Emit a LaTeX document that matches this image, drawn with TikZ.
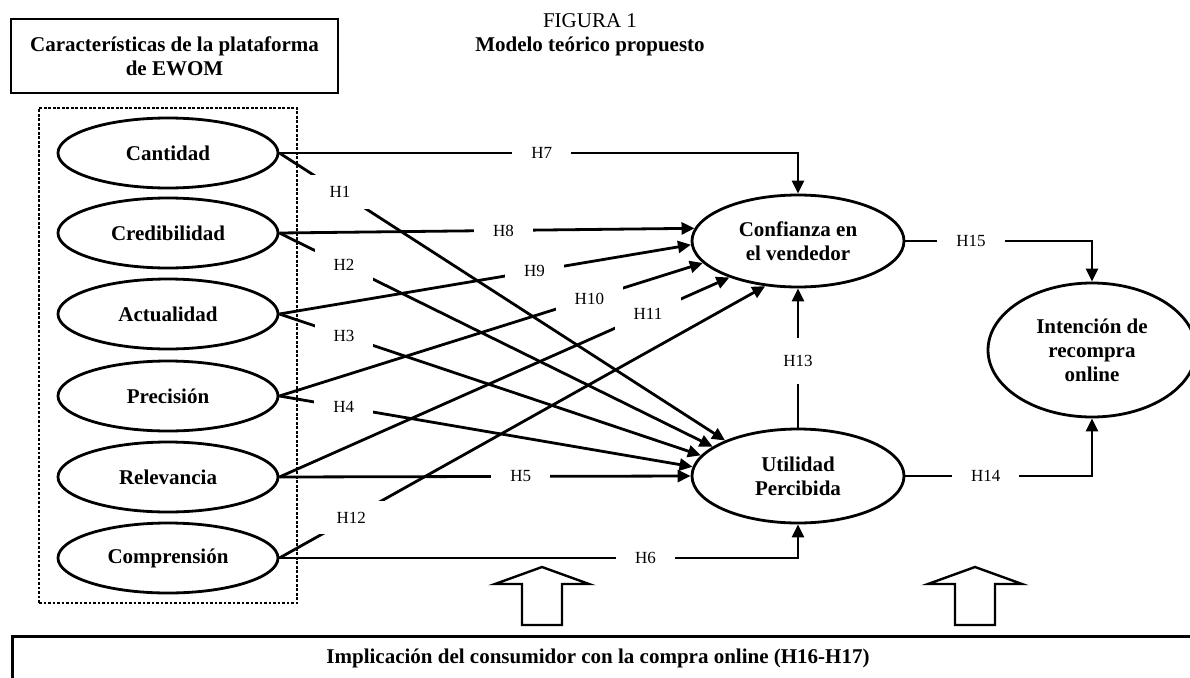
\documentclass[tikz,border=0pt]{standalone}
\usepackage{fontspec}
\setmainfont{Liberation Serif}
\usetikzlibrary{arrows.meta,shapes.geometric}

\begin{document}
\begin{tikzpicture}[x=1pt,y=-1pt,
  every node/.style={inner sep=0pt},
  boldtext/.style={font=\fontsize{21}{24}\selectfont\bfseries},
  oval/.style={ellipse, draw, line width=2.8pt, minimum width=220pt,
    minimum height=70pt, boldtext, align=center},
  bigoval/.style={ellipse, draw, line width=2.8pt, boldtext, align=center},
  conn/.style={line width=2.8pt, -{Triangle[length=13pt,width=12pt]}},
  hlab/.style={fill=white, inner xsep=19pt, inner ysep=11pt,
    font=\fontsize{17}{20}\selectfont},
  blockarrow/.style={draw, line width=2.4pt, line join=miter, fill=white},
  ]
\clip (0,0) rectangle (1190,677);

% heading
\node[align=center, font=\fontsize{21}{24}\selectfont] (title) at (590,35)
  {FIGURA 1\\\textbf{Modelo teórico propuesto}};

% platform characteristics
\node[draw, line width=2.8pt, minimum width=327pt, minimum height=74pt,
  align=center, boldtext] (plat) at (174.5,56)
  {Características de la plataforma\\de EWOM};
\node[draw, line width=2.4pt, dash pattern=on 2.6pt off 1.9pt,
  minimum width=258pt, minimum height=495pt] (group) at (168,355.5) {};

\node[oval] (cant) at (168,153) {Cantidad};
\node[oval] (cred) at (168,233) {Credibilidad};
\node[oval] (act)  at (168,314) {Actualidad};
\node[oval] (prec) at (168,396) {Precisión};
\node[oval] (rel)  at (168,477) {Relevancia};
\node[oval] (comp) at (168,558) {Comprensión};

% constructs
\node[bigoval, minimum width=212pt, minimum height=92pt] (conf) at (798,241)
  {Confianza en\\el vendedor};
\node[bigoval, minimum width=212pt, minimum height=94pt] (util) at (798,476)
  {Utilidad\\Percibida};
\node[bigoval, minimum width=208pt, minimum height=134pt] (int) at (1092,350)
  {Intención de\\recompra\\online};

% consumer involvement
\node[draw, line width=2.8pt, anchor=north west, minimum width=1230pt,
  minimum height=80pt] (impl) at (11,635) {};
\node[boldtext] (impltext) at (598,658)
  {Implicación del consumidor con la compra online (H16-H17)};

% moderating block arrows
\draw[blockarrow] (522,625) -- (522,584) -- (495,584) -- (542,567)
  -- (589,584) -- (562,584) -- (562,625) -- cycle;
\draw[blockarrow] (955,625) -- (955,584) -- (928,584) -- (975,567)
  -- (1022,584) -- (995,584) -- (995,625) -- cycle;

% hypotheses paths
\draw[conn] (cant.east) -| (conf.north);
\draw[conn] (cred.east) -- (conf.173);
\draw[conn] (act.east)  -- (conf.182);
\draw[conn] (prec.east) -- (conf.193);
\draw[conn] (rel.east)  -- (conf.208);
\draw[conn] (comp.east) -- (conf.234);
\draw[conn] (cant.east) -- (util.154);
\draw[conn] (cred.east) -- (util.161);
\draw[conn] (act.east)  -- (util.168);
\draw[conn] (prec.east) -- (util.175);
\draw[conn] (rel.east)  -- (util.west);
\draw[conn] (comp.east) -| (util.south);
\draw[conn] (util.north) -- (conf.south);
\draw[conn] (util.east) -| (int.south);
\draw[conn] (conf.east) -| (int.north);

% hypothesis labels, set over the paths
\path (cant.east) -| (conf.north) node[hlab, pos=0.253] {H7};
\path (cred.east) -- (conf.173) node[hlab, pos=0.54] {H8};
\path (act.east)  -- (conf.182) node[hlab, pos=0.62] {H9};
\path (prec.east) -- (conf.193) node[hlab, pos=0.732] {H10};
\path (rel.east)  -- (conf.208) node[hlab, pos=0.819] {H11};
\path (comp.east) -- (conf.234) node[hlab, pos=0.148] {H12};
\path (cant.east) -- (util.154) node[hlab, pos=0.136] {H1};
\path (cred.east) -- (util.161) node[hlab, pos=0.149] {H2};
\path (act.east)  -- (util.168) node[hlab, pos=0.153] {H3};
\path (prec.east) -- (util.175) node[hlab, pos=0.156] {H4};
\path (rel.east)  -- (util.west) node[hlab, pos=0.587] {H5};
\path (comp.east) -| (util.south) node[hlab, pos=0.353] {H6};
\path (util.north) -- (conf.south) node[hlab, inner ysep=17pt, pos=0.479] {H13};
\path (util.east) -| (int.south) node[hlab, pos=0.215] {H14};
\path (conf.east) -| (int.north) node[hlab, pos=0.176] {H15};
\end{tikzpicture}
\end{document}
